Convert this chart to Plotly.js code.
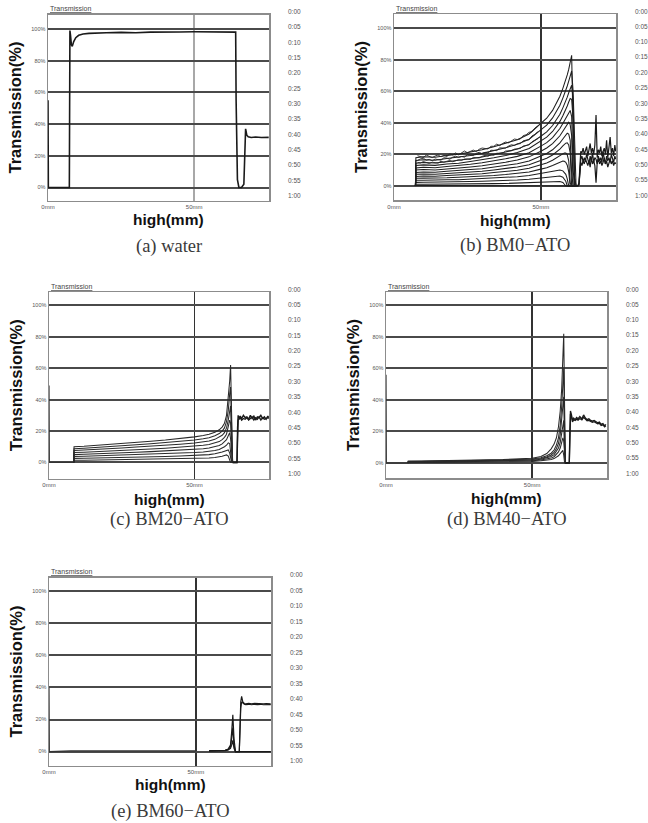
<!DOCTYPE html>
<html><head><meta charset="utf-8">
<script src="https://cdn.plot.ly/plotly-3.0.1.min.js"></script>
<style>html,body{margin:0;padding:0;background:#fff}</style>
</head><body><div id="chart" style="width:648px;height:823px"></div>
<script>
// ---------- tick labels / captions ----------
const yTickVals = [0, 20, 40, 60, 80, 100];
const yTickText = ['0%', '20%', '40%', '60%', '80%', '100%'];
const xTickVals = [0, 50];
const xTickText = ['0mm', '50mm'];
const timeLabels = ['0:00','0:05','0:10','0:15','0:20','0:25','0:30','0:35','0:40','0:45','0:50','0:55','1:00'];
const panelCaptions = ['(a) water', '(b) BM0\u2212ATO', '(c) BM20\u2212ATO', '(d) BM40\u2212ATO', '(e) BM60\u2212ATO'];
const yTitle = 'Transmission(%)';
const xTitle = 'high(mm)';
const tabLabel = 'Transmission';

// ---------- (a) water ----------
const waterX = [0, 0.12, 7.3, 7.4, 7.5, 7.7, 8.0, 8.3, 8.8, 9.5, 10.5, 12, 14, 17, 20, 25, 30, 35, 40, 45, 50, 55, 60, 63.5, 64.2, 64.35, 64.8, 65.3, 66.2, 67.0, 67.3, 67.6, 68.0, 68.5, 69.5, 71, 73, 75.5];
const waterY = [55, 0, 0, 60, 99, 96, 90, 89, 92, 94.5, 96, 96.8, 97.2, 97.5, 97.6, 97.8, 97.6, 98, 97.9, 98.1, 98.2, 98.1, 98.3, 98.4, 98, 55, 5, 0, 0, 2, 25, 37, 33, 32, 31.5, 31.8, 31.5, 31.6];

// ---------- (b) BM0-ATO ----------
const bm0X = [7.3, 7.45, 10, 14, 18, 22, 26, 30, 34, 38, 42, 46, 50, 52, 54, 55.5, 56.5, 57.5, 58, 58.5, 59, 59.5, 60, 60.5, 61, 61.5, 62];
const bm0Scans = [
  [0, 0.3, 0.3, 0.3, 0.3, 0.3, 0.3, 0.3, 0.3, 0.3, 0.3, 0.3, 0.3, 0.3, 0.3, 0.3, 0.3, 0.3, 0.3, 0.3, 0.3, 0.3, 0.3, 0.3, 0.3, 0.2, 0],
  [0, 1.1, 1.1, 1.1, 1.2, 1.2, 1.3, 1.4, 1.5, 1.6, 1.8, 2.0, 2.4, 2.6, 2.8, 2.9, 2.8, 2.2, 1.4, 0, 0, 0, 0, 0, 0, 0, 0],
  [0, 2.3, 2.4, 2.4, 2.5, 2.6, 2.8, 3.0, 3.2, 3.5, 3.8, 4.3, 5.1, 5.6, 6.1, 6.4, 6.3, 5.6, 4.6, 3.0, 0, 0, 0, 0, 0, 0, 0],
  [0, 3.6, 3.7, 3.6, 3.9, 4.0, 4.3, 4.6, 5.0, 5.4, 5.9, 6.6, 7.9, 8.6, 9.4, 10.0, 10.2, 9.6, 8.8, 7.4, 4.5, 0, 0, 0, 0, 0, 0],
  [0, 4.9, 5.0, 4.9, 5.2, 5.5, 5.8, 6.2, 6.7, 7.3, 7.9, 8.9, 10.7, 11.6, 13.0, 14.3, 15.2, 15.8, 15.7, 15.0, 13.2, 9.0, 0, 0, 0, 0, 0],
  [0, 6.1, 6.3, 6.2, 6.6, 6.9, 7.3, 7.8, 8.5, 9.2, 10.0, 11.2, 13.4, 14.6, 16.3, 18.0, 19.4, 20.6, 21.0, 21.0, 19.8, 16.0, 2.0, 0, 0, 0, 0],
  [0, 7.4, 7.6, 7.5, 7.9, 8.3, 8.9, 9.4, 10.2, 11.1, 12.1, 13.5, 16.2, 17.6, 19.7, 21.7, 23.4, 25.4, 26.4, 27.2, 27.4, 26.0, 21.0, 0, 0, 0, 0],
  [0, 8.6, 8.9, 8.7, 9.3, 9.7, 10.4, 11.0, 12.0, 13.0, 14.1, 15.8, 19.0, 20.6, 23.0, 25.4, 27.4, 29.8, 31.0, 32.4, 33.5, 33.0, 29.0, 8.0, 0, 0, 0],
  [0, 10.1, 10.4, 10.2, 10.8, 11.3, 12.1, 12.9, 13.9, 15.1, 16.5, 18.5, 22.1, 24.1, 26.9, 29.7, 31.9, 34.7, 36.1, 37.8, 39.5, 40.5, 39.0, 32.0, 0, 0, 0],
  [0, 11.5, 11.9, 11.6, 12.4, 12.9, 13.8, 14.7, 15.9, 17.3, 18.8, 21.1, 25.3, 27.5, 30.7, 33.9, 36.5, 39.7, 41.3, 43.2, 45.1, 47.0, 48.0, 44.0, 10.0, 0, 0],
  [0, 13.0, 13.4, 13.1, 13.9, 14.5, 15.6, 16.6, 17.9, 19.4, 21.2, 23.8, 28.4, 31.0, 34.6, 38.2, 41.0, 44.6, 46.4, 48.6, 50.8, 53.3, 55.5, 55.0, 42.0, 0, 0],
  [0, 14.4, 14.9, 14.6, 15.4, 16.2, 17.3, 18.4, 19.9, 21.6, 23.5, 26.4, 31.6, 34.4, 38.4, 42.4, 45.6, 49.6, 51.6, 54.0, 56.4, 59.2, 62.0, 64.0, 55.0, 5.0, 0],
  [0, 16.2, 16.7, 16.4, 17.4, 18.2, 19.4, 20.7, 22.4, 24.3, 26.5, 29.7, 35.6, 38.7, 43.2, 47.7, 51.3, 55.8, 58.1, 60.8, 63.5, 66.6, 70.2, 73.0, 60.0, 20.0, 0],
  [0, 18.0, 18.6, 18.2, 19.3, 20.2, 21.6, 23.0, 24.9, 27.0, 29.4, 33.0, 39.5, 43.0, 48.0, 53.0, 57.0, 62.0, 64.5, 67.5, 70.5, 74.0, 78.0, 83.0, 35.0, 5.0, 0]
];
// noisy upper scans (left region), read at 1 mm steps
const bm0NoisyX = [8, 9, 10, 11, 12, 13, 14, 15, 16, 17, 18, 19, 20, 21, 22, 23, 24, 25, 26, 27, 28, 29, 30, 31, 32, 33, 34, 35, 36, 37, 38, 39, 40, 41, 42, 43, 44, 45, 46, 47, 48, 49];
const bm0NoisyScans = [
  [19.2, 18.7, 18.1, 19.6, 18.8, 18.0, 19.0, 19.7, 18.5, 19.5, 18.7, 20.4, 19.8, 21.0, 19.8, 21.2, 22.2, 21.1, 21.9, 22.8, 21.8, 23.3, 24.1, 23.7, 23.5, 25.2, 25.2, 26.6, 25.6, 27.0, 27.9, 27.4, 28.8, 29.8, 29.5, 29.8, 32.0, 32.5, 34.1, 34.4, 36.8, 38.1],
  [16.2, 17.2, 17.6, 16.4, 16.9, 16.0, 17.1, 16.7, 16.4, 17.9, 17.7, 17.0, 18.3, 18.9, 18.1, 18.7, 18.3, 19.9, 19.8, 19.4, 20.7, 21.4, 20.5, 21.4, 20.9, 22.7, 22.6, 22.5, 24.2, 23.9, 24.0, 25.3, 26.2, 25.7, 26.9, 26.8, 28.7, 29.1, 29.3, 31.8, 32.7, 34.6],
  [15.0, 14.6, 15.5, 14.9, 14.3, 15.1, 14.8, 14.5, 15.7, 15.1, 15.7, 16.2, 15.4, 16.2, 16.7, 16.3, 17.1, 17.1, 16.8, 18.1, 18.0, 17.8, 18.8, 19.5, 18.9, 19.8, 19.5, 20.8, 20.8, 20.9, 22.2, 22.3, 22.4, 23.4, 23.6, 23.8, 25.4, 25.9, 26.1, 28.1, 29.1, 30.1]
];
const bm0TailX = [62, 62.6, 63.0, 63.3, 63.6, 64, 64.4, 64.8, 65.2, 65.6, 66, 66.4, 66.8, 67.2, 67.6, 68, 68.4, 68.8, 69.2, 69.6, 70, 70.4, 70.8, 71.2, 71.6, 72, 72.4, 72.8, 73.2, 73.6, 74, 74.4, 74.8, 75.2, 75.5];
const bm0TailScans = [
  [0, 0, 2, 18, 22, 21, 24, 20, 23, 25, 19, 22, 27, 21, 24, 20, 26, 45, 18, 23, 21, 25, 19, 22, 24, 20, 29, 18, 23, 31, 21, 24, 19, 26, 22],
  [0, 0, 1, 14, 17, 19, 15, 18, 16, 20, 17, 14, 19, 16, 21, 15, 18, 17, 14, 19, 16, 18, 15, 22, 17, 14, 19, 16, 18, 15, 20, 17, 15, 19, 17],
  [0, 0, 1, 12, 15, 13, 16, 14, 17, 15, 13, 16, 12, 18, 14, 16, 13, 2, 15, 17, 14, 16, 13, 15, 18, 14, 16, 12, 15, 17, 14, 16, 13, 15, 14]
];

// ---------- (c) BM20-ATO ----------
const bm20StartX = [0, 0.12, 8.5];
const bm20StartY = [49, 0, 0];
const bm20X = [8.5, 8.6, 12, 16, 20, 25, 30, 35, 40, 45, 50, 53, 55, 57, 58.5, 59.5, 60.3, 61, 61.6, 62.1, 62.4, 62.8, 63.1, 63.5];
const bm20Scans = [
  [0, 1.4, 1.4, 1.5, 1.6, 1.7, 1.8, 1.9, 2.0, 2.2, 2.4, 2.6, 2.8, 3.1, 3.5, 4.0, 4.5, 4.8, 4.0, 2.0, 0, 0, 0, 0],
  [0, 2.6, 2.7, 2.8, 3.0, 3.2, 3.4, 3.6, 3.8, 4.1, 4.4, 4.7, 5.0, 5.5, 6.0, 6.6, 7.2, 7.8, 8.0, 6.0, 2.0, 0, 0, 0],
  [0, 3.8, 3.9, 4.1, 4.3, 4.6, 4.9, 5.2, 5.5, 5.9, 6.3, 6.7, 7.0, 7.6, 8.3, 9.0, 10.0, 11.0, 12.5, 12.0, 7.0, 0, 0, 0],
  [0, 5.0, 5.2, 5.4, 5.7, 6.1, 6.5, 6.9, 7.3, 7.8, 8.3, 8.8, 9.2, 10.0, 10.8, 11.8, 13.0, 14.5, 17.0, 19.0, 15.0, 2.0, 0, 0],
  [0, 6.3, 6.5, 6.8, 7.2, 7.6, 8.1, 8.6, 9.1, 9.7, 10.3, 10.9, 11.4, 12.3, 13.3, 14.5, 16.0, 18.0, 22.0, 27.0, 25.0, 6.0, 0, 0],
  [0, 7.6, 7.9, 8.2, 8.6, 9.2, 9.8, 10.3, 10.9, 11.6, 12.4, 13.1, 13.7, 14.7, 16.0, 17.3, 19.0, 22.0, 27.0, 35.0, 36.0, 12.0, 0, 0],
  [0, 8.8, 9.1, 9.5, 10.0, 10.6, 11.3, 11.9, 12.6, 13.4, 14.3, 15.1, 15.8, 17.0, 18.4, 20.0, 22.0, 26.0, 33.0, 44.0, 48.0, 20.0, 0, 0],
  [0, 10.0, 10.3, 10.8, 11.3, 12.0, 12.8, 13.5, 14.3, 15.2, 16.3, 17.2, 18.0, 19.3, 20.8, 22.5, 25.0, 30.0, 40.0, 52.0, 62.0, 30.0, 0, 0]
];
const bm20TailX = [63.1, 64.6, 64.8, 65.0, 65.3, 65.7, 66.2, 66.8, 67.4, 68, 68.6, 69.2, 69.8, 70.4, 71, 71.6, 72.2, 72.8, 73.4, 74, 74.6, 75.2, 75.5];
const bm20TailScans = [
  [0, 0, 22, 30, 28, 29.5, 28, 30, 28.5, 29, 27.5, 30, 28, 29.5, 27, 29, 28.5, 30, 28, 29, 27.5, 29.5, 28.5],
  [0, 0, 15, 27, 27.5, 28.5, 27, 28, 27.5, 28.5, 27, 28, 29, 27, 28.5, 27.5, 29, 27, 28.5, 27.5, 28, 28.5, 28]
];

// ---------- (d) BM40-ATO ----------
const bm40StartX = [0, 0.12, 7.5];
const bm40StartY = [56, 0, 0];
const bm40X = [7.5, 7.6, 12, 20, 30, 40, 50, 53, 55, 56.5, 57.5, 58.3, 59, 59.6, 60.1, 60.5, 60.8, 61.1, 61.4, 61.8];
const bm40Scans = [
  [0, 0.2, 0.3, 0.4, 0.5, 0.7, 1.0, 1.4, 1.8, 2.2, 2.8, 3.6, 4.6, 6.0, 7.5, 8.0, 5.0, 0, 0, 0],
  [0, 0.4, 0.5, 0.6, 0.7, 1.0, 1.4, 1.9, 2.4, 3.1, 4.0, 5.3, 7.0, 9.5, 13.0, 16.0, 14.0, 2.0, 0, 0],
  [0, 0.6, 0.7, 0.9, 1.0, 1.3, 1.8, 2.4, 3.1, 4.1, 5.3, 7.2, 9.5, 13.0, 19.0, 26.0, 27.0, 5.0, 0, 0],
  [0, 0.8, 0.9, 1.1, 1.3, 1.6, 2.2, 2.9, 3.8, 5.1, 6.7, 9.2, 12.5, 18.0, 27.0, 38.0, 42.0, 12.0, 0, 0],
  [0, 1.0, 1.1, 1.3, 1.5, 1.9, 2.6, 3.4, 4.6, 6.2, 8.2, 11.5, 16.0, 24.0, 36.0, 50.0, 60.0, 22.0, 0, 0],
  [0, 1.2, 1.3, 1.5, 1.8, 2.2, 3.0, 4.2, 6.0, 9.0, 12.0, 16.0, 23.0, 33.0, 47.0, 63.0, 82.0, 35.0, 0, 0]
];
const bm40TailX = [61.4, 62.7, 62.9, 63.1, 63.4, 63.8, 64.2, 64.7, 65.2, 65.7, 66.3, 67, 67.6, 68.2, 68.8, 69.4, 70, 70.6, 71.2, 71.8, 72.4, 73, 73.6, 74.2, 74.8, 75.2];
const bm40TailScans = [
  [0, 0, 20, 33, 31, 27, 28.5, 27.5, 28.8, 28, 29.5, 28, 30.5, 28.5, 27.5, 28, 27, 26.5, 27, 26, 25.5, 26, 24.5, 25, 23.5, 24.5],
  [0, 0, 14, 31, 29.5, 26, 27.5, 27, 27.8, 27.2, 28.2, 27.4, 29, 27.6, 26.8, 27, 26.3, 25.8, 26.2, 25.3, 24.8, 25.1, 23.8, 24.2, 22.9, 23.6]
];

// ---------- (e) BM60-ATO ----------
const bm60StartX = [0, 0.12, 7.4, 50];
const bm60StartY = [40, 0, 0.4, 0.4];
const bm60X = [54.5, 56, 58, 60, 61, 61.8, 62.2, 62.6, 63, 63.5, 64.8, 65.0, 65.3, 65.6, 66, 66.5, 67, 68, 69, 70, 71, 72, 73, 74, 75.5];
const bm60Scans = [
  [0.4, 0.4, 0.5, 0.6, 1.0, 2.0, 4.0, 7.0, 2.0, 0, 0, 0, 0, 0, 0, 0, 0, 0, 0, 0, 0, 0, 0, 0, 0],
  [0.4, 0.4, 0.5, 0.7, 1.2, 3.0, 8.0, 15.0, 4.0, 0, 0, 14, 27, 31, 30, 29.5, 29.3, 29.5, 29.2, 29.5, 29.3, 29.5, 29.2, 29.4, 29.3],
  [0.5, 0.5, 0.6, 0.8, 1.5, 4.0, 12.0, 23.0, 8.0, 0, 0, 20, 31, 34.5, 31, 30, 29.8, 30, 29.7, 30, 29.8, 30, 29.7, 29.9, 29.8]
];

// ---------- layout geometry (pixels) ----------
const W = 648, H = 823;
const boxes = [
  {l: 48, r: 269, t: 14.5, b: 200.5, yr: [-8.2, 109.1], hOff: 19, cOff: 46},
  {l: 394, r: 616, t: 14, b: 200, yr: [-8.9, 109.2], hOff: 20, cOff: 46},
  {l: 49, r: 269, t: 292, b: 478.5, yr: [-10.2, 108.5], hOff: 21, cOff: 41},
  {l: 386, r: 607, t: 292, b: 478, yr: [-9.5, 108.4], hOff: 20.5, cOff: 41.5},
  {l: 49, r: 271, t: 577.5, b: 765.5, yr: [-8.7, 108.6], hOff: 19, cOff: 46}
];
const xRange = [0, 75.6];

const traces = [];
function addLine(panel, xs, ys, color, width) {
  const sfx = panel === 0 ? '' : String(panel + 1);
  traces.push({x: xs, y: ys, type: 'scatter', mode: 'lines', xaxis: 'x' + sfx, yaxis: 'y' + sfx,
    line: {color: color, width: width, shape: 'linear'}, hoverinfo: 'skip', showlegend: false});
}
addLine(0, waterX, waterY, '#1a1a1a', 1.6);
bm0Scans.forEach(s => addLine(1, bm0X, s, '#1e1e1e', 1.05));
bm0NoisyScans.forEach(s => addLine(1, bm0NoisyX, s, '#262626', 0.9));
bm0TailScans.forEach(s => addLine(1, bm0TailX, s, '#1a1a1a', 1.2));
addLine(2, bm20StartX, bm20StartY, '#333', 1.2);
bm20Scans.forEach(s => addLine(2, bm20X, s, '#2a2a2a', 1.05));
bm20TailScans.forEach(s => addLine(2, bm20TailX, s, '#1a1a1a', 1.4));
addLine(3, bm40StartX, bm40StartY, '#333', 1.2);
bm40Scans.forEach(s => addLine(3, bm40X, s, '#2a2a2a', 1.05));
bm40TailScans.forEach(s => addLine(3, bm40TailX, s, '#1a1a1a', 1.3));
addLine(4, bm60StartX, bm60StartY, '#333', 1.2);
bm60Scans.forEach(s => addLine(4, bm60X, s, '#1a1a1a', 1.2));

const layout = {
  width: W, height: H, margin: {l: 0, r: 0, t: 0, b: 0},
  paper_bgcolor: '#fff', plot_bgcolor: '#fff', showlegend: false,
  font: {family: 'Liberation Sans, Arial, sans-serif', color: '#000'},
  annotations: []
};
boxes.forEach((p, i) => {
  const sfx = i === 0 ? '' : String(i + 1);
  layout['xaxis' + sfx] = {
    domain: [p.l / W, p.r / W], range: xRange, anchor: 'y' + sfx,
    tickmode: 'array', tickvals: xTickVals, ticktext: xTickText, ticks: '',
    tickfont: {size: 6, color: '#555'},
    showgrid: true, gridcolor: i === 0 ? '#a8a8a8' : '#333', gridwidth: i === 0 ? 2.5 : 1.6,
    zeroline: false, showline: true, mirror: true, linecolor: '#8c8c8c', linewidth: 1.5, fixedrange: true
  };
  layout['yaxis' + sfx] = {
    domain: [1 - p.b / H, 1 - p.t / H], range: p.yr, anchor: 'x' + sfx,
    tickmode: 'array', tickvals: yTickVals, ticktext: yTickText, ticks: '',
    tickfont: {size: 5.5, color: '#555'}, ticklabelstandoff: 0,
    showgrid: true, gridcolor: '#4a4a4a', gridwidth: 2,
    zeroline: false, showline: true, mirror: true, linecolor: '#8c8c8c', linewidth: 1.5, fixedrange: true,
    title: {text: '<b>' + yTitle + '</b>', font: {size: 16.5, color: '#111'}, standoff: 5}
  };
  const cx = (p.l + p.r) / 2 + 10;
  layout.annotations.push({text: '<u>' + tabLabel + '</u>', xref: 'paper', yref: 'paper',
    x: p.l / W, y: 1 - (p.t - 0.5) / H, xanchor: 'left', yanchor: 'bottom', showarrow: false,
    font: {size: 7, color: '#444'}});
  layout.annotations.push({text: '<b>' + xTitle + '</b>', xref: 'paper', yref: 'paper',
    x: cx / W, y: 1 - (p.b + p.hOff) / H, xanchor: 'center', yanchor: 'middle', showarrow: false,
    borderpad: 0, font: {size: 15.5, color: '#111'}});
  layout.annotations.push({text: panelCaptions[i], xref: 'paper', yref: 'paper',
    x: cx / W, y: 1 - (p.b + p.cOff) / H, xanchor: 'center', yanchor: 'middle', showarrow: false,
    borderpad: 0, font: {size: 18.5, color: '#3a3a3a', family: 'Liberation Serif, Times New Roman, serif'}});
  const t0 = p.t - 3, t1 = p.b - 5;
  timeLabels.forEach((lab, j) => {
    layout.annotations.push({text: lab, xref: 'paper', yref: 'paper',
      x: (p.r + 25) / W, y: 1 - (t0 + j * (t1 - t0) / (timeLabels.length - 1)) / H,
      xanchor: 'center', yanchor: 'middle', showarrow: false, font: {size: 6.5, color: '#555'}});
  });
});

Plotly.newPlot('chart', traces, layout, {staticPlot: true, displayModeBar: false});
</script></body></html>
